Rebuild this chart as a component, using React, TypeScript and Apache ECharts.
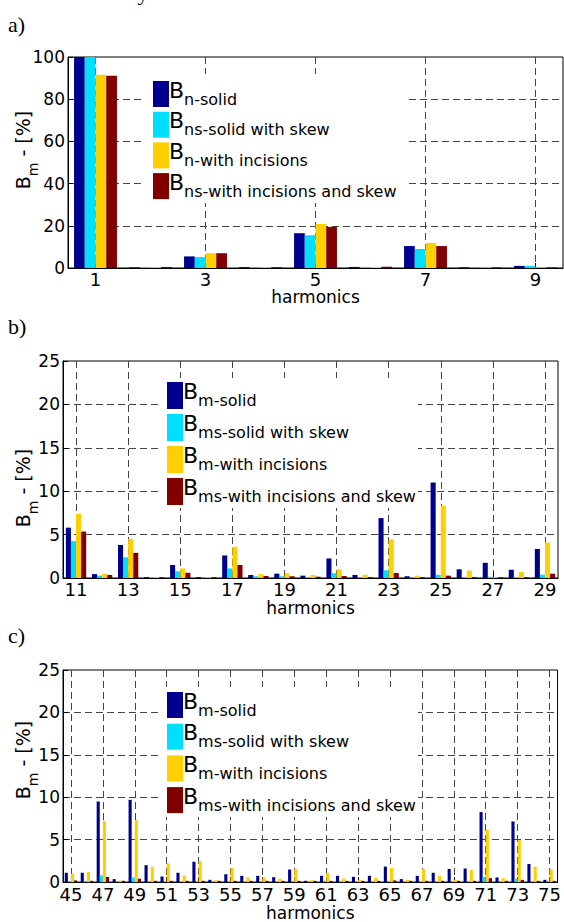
import React, { useEffect, useRef } from 'react';
import * as echarts from 'echarts';

// ---------- categories ----------
const harmonicsA = ['1', '2', '3', '4', '5', '6', '7', '8', '9'];
const harmonicsB = ['11', '12', '13', '14', '15', '16', '17', '18', '19', '20', '21', '22', '23', '24', '25', '26', '27', '28', '29'];
const harmonicsC = ['45', '46', '47', '48', '49', '50', '51', '52', '53', '54', '55', '56', '57', '58', '59', '60', '61', '62', '63', '64', '65', '66', '67', '68', '69', '70', '71', '72', '73', '74', '75'];

// ---------- panel a (harmonics 1..9) ----------
const solidA = [100, 0.3, 5.5, 0.4, 16.5, 0.5, 10.4, 0.3, 1.0];
const skewA = [100, 0.4, 5.2, 0.4, 15.5, 0.5, 9.0, 0.3, 1.0];
const incA = [91.6, 0.4, 7.0, 0.4, 20.9, 0.5, 11.9, 0.3, 0.3];
const incSkewA = [91.1, 0.5, 7.0, 0.4, 19.5, 0.6, 10.4, 0.3, 0.3];

// ---------- panel b (harmonics 11..29) ----------
const solidB = [5.8, 0.45, 3.8, 0.1, 1.5, 0.1, 2.6, 0.35, 0.5, 0.27, 2.25, 0.35, 6.9, 0.2, 11.0, 1.0, 1.75, 0.95, 3.35];
const skewB = [4.25, 0.27, 2.4, 0.1, 0.77, 0.1, 1.1, 0.2, 0.2, 0.1, 0.55, 0.1, 0.88, 0.1, 0.38, 0.1, 0.15, 0.1, 0.38];
const incB = [7.4, 0.5, 4.5, 0.1, 1.1, 0.1, 3.6, 0.45, 0.55, 0.35, 1.0, 0.38, 4.45, 0.27, 8.35, 0.85, 0.1, 0.7, 4.1];
const incSkewB = [5.35, 0.35, 2.9, 0.1, 0.6, 0.1, 1.5, 0.23, 0.2, 0.15, 0.23, 0.1, 0.57, 0.1, 0.27, 0.1, 0.1, 0.1, 0.5];

// ---------- panel c (harmonics 45..75) ----------
const solidC = [1.1, 1.1, 9.5, 0.35, 9.7, 2.0, 0.66, 1.1, 2.4, 0.27, 0.93, 0.74, 0.74, 0.58, 1.48, 0.15, 0.74, 0.74, 0.62, 0.74, 1.83, 0.35, 0.74, 1.1, 1.55, 1.6, 8.25, 0.55, 7.15, 2.14, 0.27];
const skewC = [0.15, 0.15, 0.8, 0.1, 0.55, 0.1, 0.1, 0.1, 0.1, 0.1, 0.1, 0.1, 0.1, 0.1, 0.15, 0.1, 0.15, 0.15, 0.1, 0.1, 0.15, 0.1, 0.1, 0.1, 0.1, 0.1, 0.62, 0.1, 0.39, 0.1, 0.1];
const incC = [1.0, 1.2, 7.2, 0.2, 7.3, 1.8, 2.2, 0.78, 2.5, 0.23, 1.7, 0.55, 0.55, 0.4, 1.55, 0.23, 1.1, 0.43, 0.23, 0.5, 1.67, 0.27, 1.55, 0.74, 0.27, 1.44, 6.15, 0.47, 4.94, 1.83, 1.52];
const incSkewC = [0.2, 0.15, 0.6, 0.15, 0.4, 0.15, 0.15, 0.15, 0.15, 0.15, 0.15, 0.15, 0.15, 0.15, 0.15, 0.15, 0.15, 0.15, 0.15, 0.15, 0.2, 0.15, 0.15, 0.15, 0.15, 0.15, 0.47, 0.15, 0.27, 0.15, 0.15];

// ---------- texts ----------
const legendSubA = ['n-solid', 'ns-solid with skew', 'n-with incisions', 'ns-with incisions and skew'];
const legendSubBC = ['m-solid', 'ms-solid with skew', 'm-with incisions', 'ms-with incisions and skew'];
const panelLetters = ['a)', 'b)', 'c)'];
const xTitle = 'harmonics';
const yTitleMain = 'B';
const yTitleSub = 'm';
const yTitleRest = ' - [%]';
const headerText = 'to Fourier analysis.';

const COLORS = ['#00008F', '#00DFFF', '#FFCF00', '#800000'];
const FONT = 'DejaVu Sans';
const SERIF = 'Liberation Serif';

const panels = [
  { cats: harmonicsA, data: [solidA, skewA, incA, incSkewA], legend: legendSubA, yMax: 100, yStep: 20 },
  { cats: harmonicsB, data: [solidB, skewB, incB, incSkewB], legend: legendSubBC, yMax: 25, yStep: 5 },
  { cats: harmonicsC, data: [solidC, skewC, incC, incSkewC], legend: legendSubBC, yMax: 25, yStep: 5 },
];

// ---------- layout (px) ----------
const layouts = [
  { grid: { left: 68, top: 57, width: 495, height: 211 }, letterY: 24, labelMargin: 5, nameGap: 20.5, yNameX: 26.5, yNameY: 150,
    box: { x: 143, y: 74, w: 264, h: 129 }, rectX: 153, rectTop: 81, step: 30.7, rectH: 26 },
  { grid: { left: 63, top: 361, width: 495, height: 217 }, letterY: 326, labelMargin: 5.5, nameGap: 21.5, yNameX: 26.5, yNameY: 488,
    box: { x: 159, y: 378, w: 259, h: 130 }, rectX: 167, rectTop: 382, step: 32, rectH: 27 },
  { grid: { left: 63, top: 670, width: 495, height: 214 }, letterY: 635, labelMargin: 6, nameGap: 21, yNameX: 26.5, yNameY: 760,
    box: { x: 159, y: 687, w: 259, h: 130 }, rectX: 167, rectTop: 692, step: 31.7, rectH: 26 },
];

const gridLineStyle = { color: '#444', type: [7, 4] as any, width: 1 };

function buildOption() {
  const graphic: any[] = [];
  graphic.push({
    type: 'text', x: 8, y: -8, z: 10, silent: true,
    style: { text: headerText, fontFamily: SERIF, fontSize: 22, fill: '#000', verticalAlign: 'middle', align: 'left' },
  });
  layouts.forEach((L, i) => {
    graphic.push({
      type: 'text', x: 8, y: L.letterY, z: 10, silent: true,
      style: { text: panelLetters[i], fontFamily: SERIF, fontSize: 22, fill: '#000', verticalAlign: 'middle', align: 'left' },
    });
    graphic.push({
      type: 'text', x: L.yNameX, y: L.yNameY, rotation: Math.PI / 2, z: 10, silent: true,
      style: {
        text: `{b|${yTitleMain}}{s|${yTitleSub}}{t|${yTitleRest}}`,
        align: 'center', verticalAlign: 'middle', fill: '#000', fontFamily: FONT,
        rich: {
          b: { fontSize: 19, fontFamily: FONT, fill: '#000', verticalAlign: 'top' },
          s: { fontSize: 14, fontFamily: FONT, fill: '#000', lineHeight: 27, verticalAlign: 'bottom' },
          t: { fontSize: 19, fontFamily: FONT, fill: '#000', verticalAlign: 'top' },
        },
      },
    });
    // legend box
    graphic.push({
      type: 'rect', z: 10, silent: true,
      shape: { x: L.box.x, y: L.box.y, width: L.box.w, height: L.box.h },
      style: { fill: '#fff' },
    });
    panels[i].legend.forEach((sub, k) => {
      const top = L.rectTop + k * L.step;
      graphic.push({
        type: 'rect', z: 11, silent: true,
        shape: { x: L.rectX, y: top, width: 16, height: L.rectH },
        style: { fill: COLORS[k] },
      });
      graphic.push({
        type: 'text', x: L.rectX + 16, y: top - 2, z: 11, silent: true,
        style: {
          text: `{b|B}{s|${sub}}`,
          align: 'left', verticalAlign: 'top', fill: '#000', fontFamily: FONT,
          rich: {
            b: { fontSize: 22, fontFamily: FONT, fill: '#000', verticalAlign: 'top' },
            s: { fontSize: 16, fontFamily: FONT, fill: '#000', lineHeight: 28, verticalAlign: 'bottom' },
          },
        },
      });
    });
  });

  return {
    animation: false,
    textStyle: { fontFamily: FONT },
    grid: layouts.map((L) => ({ ...L.grid, show: true, borderColor: '#000', borderWidth: 1, backgroundColor: '#fff' })),
    xAxis: panels.map((p, i) => ({
      type: 'category', gridIndex: i, data: p.cats,
      axisLine: { show: true, lineStyle: { color: '#000', width: 1 } },
      axisTick: { show: true, inside: true, alignWithLabel: true, interval: 1, length: 5, lineStyle: { color: '#000' } },
      axisLabel: { interval: 1, color: '#000', fontSize: 18, lineHeight: 12, margin: layouts[i].labelMargin, fontFamily: FONT },
      splitLine: { show: true, interval: 1, alignWithLabel: true, lineStyle: gridLineStyle },
      name: xTitle, nameLocation: 'middle', nameGap: layouts[i].nameGap,
      nameTextStyle: { color: '#000', fontSize: 17, lineHeight: 11, fontFamily: FONT },
    })),
    yAxis: panels.map((p, i) => ({
      type: 'value', gridIndex: i, min: 0, max: p.yMax, interval: p.yStep,
      axisLine: { show: true, lineStyle: { color: '#000', width: 1 } },
      axisTick: { show: true, inside: true, length: 5, lineStyle: { color: '#000' } },
      axisLabel: { color: '#000', fontSize: 17, margin: 3, fontFamily: FONT },
      splitLine: { show: true, showMinLine: false, showMaxLine: false, lineStyle: gridLineStyle },
    })),
    series: panels.flatMap((p, i) => p.data.map((vals, k) => ({
      type: 'bar', name: `${panelLetters[i]} ${k}`, xAxisIndex: i, yAxisIndex: i, data: vals,
      barGap: '0%', barCategoryGap: '22%', silent: true,
      itemStyle: { color: COLORS[k] },
    }))),
    graphic,
  };
}

export default function App() {
  const ref = useRef<HTMLDivElement>(null);
  useEffect(() => {
    document.body.style.margin = '0';
    if (!ref.current) return;
    const chart = echarts.init(ref.current, null, { renderer: 'svg' });
    chart.setOption(buildOption() as any);
    return () => chart.dispose();
  }, []);
  return <div ref={ref} style={{ position: 'absolute', left: 0, top: 0, width: 564, height: 922, background: '#fff' }} />;
}
